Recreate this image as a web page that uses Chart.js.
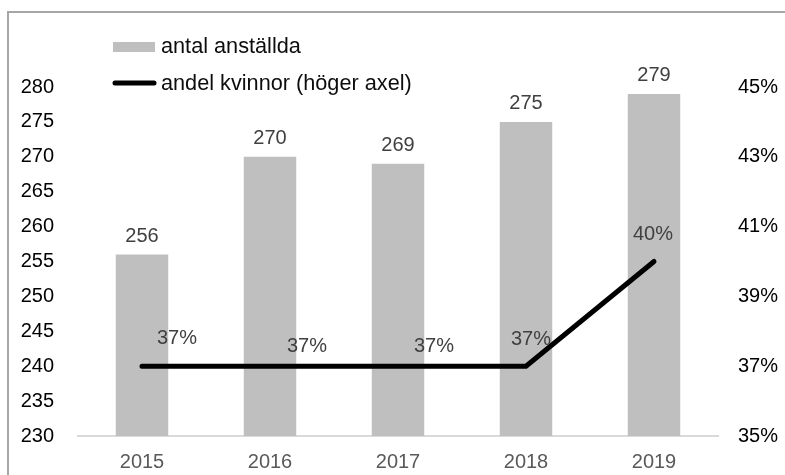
<!DOCTYPE html>
<html>
<head>
<meta charset="utf-8">
<script src="https://cdn.jsdelivr.net/npm/chart.js@4.4.1/dist/chart.umd.min.js"></script>
<style>
  html, body { margin: 0; padding: 0; background: #fff; overflow: hidden; }
  #wrap { position: relative; width: 785px; height: 475px; overflow: hidden; }
  #frame { position: absolute; left: 7px; top: 11px; width: 820px; height: 520px;
           border-left: 2px solid #a6a6a6; border-top: 2px solid #a6a6a6; }
  canvas { position: absolute; left: 0; top: 0; }
</style>
</head>
<body>
<div id="wrap">
  <div id="frame"></div>
  <canvas id="chart" width="785" height="475"></canvas>
</div>
<script>
const years = ['2015', '2016', '2017', '2018', '2019'];
const employees = [256, 270, 269, 275, 279];
const womenShare = [37, 37, 37, 37, 40];
const leftTicks = [230, 235, 240, 245, 250, 255, 260, 265, 270, 275, 280];
const rightTicks = [35, 37, 39, 41, 43, 45];

const FONT = '"Liberation Sans", Arial, sans-serif';

// where Excel happened to put the % labels, relative to each point
const lineLabelShift = [[35, -28], [37, -20], [36, -20], [5, -27], [-1, -27]];

const valueLabels = {
  id: 'valueLabels',
  afterDatasetsDraw(chart) {
    const ctx = chart.ctx;
    ctx.save();
    ctx.font = '20px ' + FONT;
    ctx.fillStyle = '#404040';
    ctx.textAlign = 'center';
    ctx.textBaseline = 'middle';
    chart.getDatasetMeta(0).data.forEach((bar, i) => {
      ctx.fillText(String(employees[i]), bar.x, bar.y - 18);
    });
    chart.getDatasetMeta(1).data.forEach((pt, i) => {
      const [dx, dy] = lineLabelShift[i];
      ctx.fillText(womenShare[i] + '%', pt.x + dx, pt.y + dy);
    });
    ctx.restore();
  }
};

// stacked legend in the upper left corner of the plot
const sideLegend = {
  id: 'sideLegend',
  afterDraw(chart) {
    const ctx = chart.ctx;
    const [bars, line] = chart.data.datasets;
    ctx.save();
    ctx.fillStyle = bars.backgroundColor;
    ctx.fillRect(113, 42, 42, 10);
    ctx.strokeStyle = line.borderColor;
    ctx.lineWidth = 5;
    ctx.lineCap = 'round';
    ctx.beginPath();
    ctx.moveTo(115, 83);
    ctx.lineTo(154, 83);
    ctx.stroke();
    ctx.font = '21.7px ' + FONT;
    ctx.fillStyle = '#0d0d0d';
    ctx.textBaseline = 'middle';
    ctx.fillText(bars.label, 161, 47);
    ctx.fillText(line.label, 161, 84);
    ctx.restore();
  }
};

new Chart(document.getElementById('chart'), {
  data: {
    labels: years,
    datasets: [
      {
        type: 'bar',
        label: 'antal anställda',
        data: employees,
        backgroundColor: '#bfbfbf',
        categoryPercentage: 1,
        barPercentage: 0.41,
        yAxisID: 'y',
        order: 2
      },
      {
        type: 'line',
        label: 'andel kvinnor (höger axel)',
        data: womenShare,
        borderColor: '#000',
        borderWidth: 5,
        borderCapStyle: 'round',
        pointRadius: 0,
        tension: 0,
        yAxisID: 'y1',
        order: 1
      }
    ]
  },
  options: {
    responsive: false,
    animation: false,
    devicePixelRatio: 1,
    layout: { padding: { top: 87, left: 0, right: 0, bottom: 0 } },
    plugins: {
      legend: { display: false },
      tooltip: { enabled: false }
    },
    scales: {
      x: {
        grid: { display: false, drawTicks: false },
        border: { color: '#d9d9d9', width: 2 },
        ticks: { color: '#595959', font: { family: FONT, size: 20 }, padding: 14 },
        afterFit: s => { s.height = 39; }
      },
      y: {
        position: 'left',
        min: 230,
        max: 280,
        grid: { display: false, drawTicks: false },
        border: { display: false },
        afterBuildTicks: s => { s.ticks = leftTicks.map(v => ({ value: v })); },
        ticks: { color: '#000', font: { family: FONT, size: 20 }, padding: 24 },
        afterFit: s => { s.width = 78; }
      },
      y1: {
        position: 'right',
        min: 35,
        max: 45,
        grid: { display: false, drawTicks: false },
        border: { display: false },
        afterBuildTicks: s => { s.ticks = rightTicks.map(v => ({ value: v })); },
        ticks: {
          color: '#000',
          font: { family: FONT, size: 20 },
          padding: 20,
          callback: v => v + '%'
        },
        afterFit: s => { s.width = 67; }
      }
    }
  },
  plugins: [valueLabels, sideLegend]
});
</script>
</body>
</html>
